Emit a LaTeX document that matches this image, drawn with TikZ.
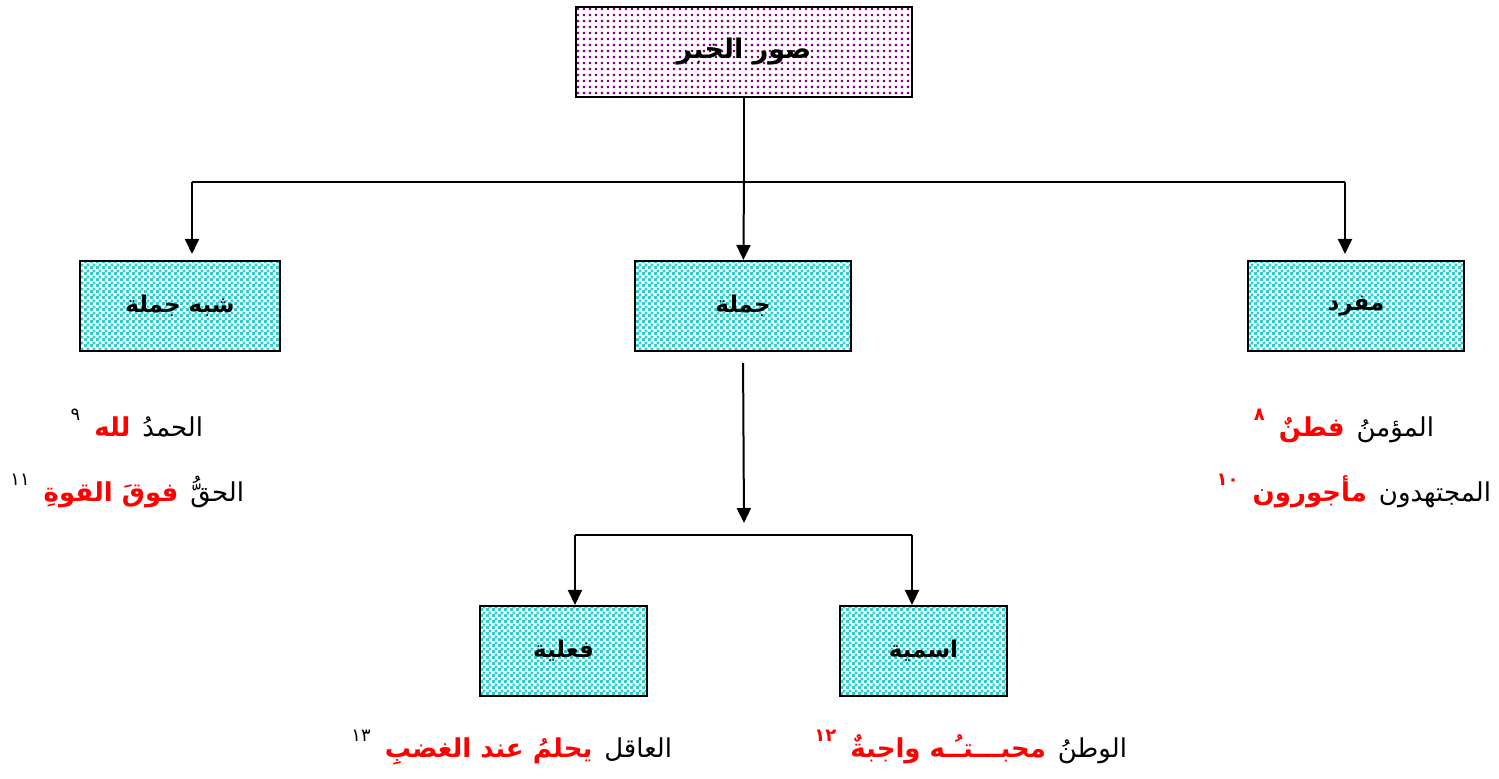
\documentclass[tikz,border=0pt]{standalone}
\usepackage{fontspec}
\newfontfamily\arabicfont[Script=Arabic]{DejaVu Sans}
\TeXXeTstate=1
\usetikzlibrary{arrows.meta,patterns,positioning}
\definecolor{boxcyan}{RGB}{51,204,204}
\definecolor{boxpurple}{RGB}{128,0,128}
\pgfdeclarepatternformonly{finechecker}{\pgfpointorigin}{\pgfqpoint{3pt}{3pt}}{\pgfqpoint{3pt}{3pt}}{%
  \pgfpathrectangle{\pgfpointorigin}{\pgfqpoint{1.6pt}{1.6pt}}%
  \pgfpathrectangle{\pgfqpoint{1.5pt}{1.5pt}}{\pgfqpoint{1.6pt}{1.6pt}}%
  \pgfusepath{fill}}
\pgfdeclarepatternformonly{finedots}{\pgfpointorigin}{\pgfqpoint{3pt}{3pt}}{\pgfqpoint{3pt}{3pt}}{%
  \pgfpathrectangle{\pgfqpoint{0.5pt}{0.5pt}}{\pgfqpoint{1.3pt}{1.3pt}}%
  \pgfusepath{fill}}
\newcommand{\artext}[1]{\beginR #1\endR}

\begin{document}
\begin{tikzpicture}[x=0.5pt,y=-0.5pt,line width=1pt,node distance=5pt,
  >={Triangle[length=7.5pt,width=7pt]},
  khabarbox/.style={draw, line width=1pt, pattern=finedots, pattern color=boxpurple,
    minimum width=168pt, minimum height=45pt, inner sep=0pt,
    font=\arabicfont\bfseries\fontsize{13.5}{16}\selectfont},
  typebox/.style={draw, line width=1pt, pattern=finechecker, pattern color=boxcyan,
    minimum height=45pt, inner sep=0pt,
    font=\arabicfont\bfseries\fontsize{11.5}{14}\selectfont},
  example/.style={inner sep=0pt, font=\arabicfont\fontsize{13}{15}\selectfont},
  exred/.style={example, text=red, font=\arabicfont\bfseries\fontsize{13}{15}\selectfont},
  exmark/.style={inner sep=0pt, yshift=8pt, font=\arabicfont\fontsize{9}{10}\selectfont},
  redmark/.style={exmark, text=red, font=\arabicfont\bfseries\fontsize{9}{10}\selectfont}]
\useasboundingbox (0,0) rectangle (1499,779);

% boxes
\node[khabarbox] (khabar) at (744,52) {\artext{صور الخبر}};
\node[typebox, minimum width=100pt] (shibh) at (180,306) {\artext{شبه جملة}};
\node[typebox, minimum width=108pt] (jumla) at (743,306) {\artext{جملة}};
\node[typebox, minimum width=108pt] (mufrad) at (1356,306) {\artext{مفرد}};
\node[typebox, minimum width=83.5pt] (filiya) at (563.5,651) {\artext{فعلية}};
\node[typebox, minimum width=83.5pt] (ismiya) at (923.5,651) {\artext{اسمية}};

% examples under shibh
\node[example, anchor=base east] (shibh_a) at (204,437) {\artext{الحمدُ}};
\node[exred, base left=of shibh_a] (shibh_a_red) {\artext{لله}};
\node[exmark, base left=6pt of shibh_a_red] (shibh_a_num) {٩};
\node[example, anchor=base east] (shibh_b) at (245,502) {\artext{الحقُّ}};
\node[exred, base left=of shibh_b] (shibh_b_red) {\artext{فوقَ القوةِ}};
\node[exmark, base left=6pt of shibh_b_red] (shibh_b_num) {١١};

% examples under mufrad
\node[example, anchor=base east] (mufrad_a) at (1435,437) {\artext{المؤمنُ}};
\node[exred, base left=of mufrad_a] (mufrad_a_red) {\artext{فطنٌ}};
\node[redmark, base left=6pt of mufrad_a_red] (mufrad_a_num) {٨};
\node[example, anchor=base east] (mufrad_b) at (1492,502) {\artext{المجتهدون}};
\node[exred, base left=of mufrad_b] (mufrad_b_red) {\artext{مأجورون}};
\node[redmark, base left=6pt of mufrad_b_red] (mufrad_b_num) {١٠};

% examples under filiya and ismiya
\node[example, anchor=base east] (filiya_a) at (673,757) {\artext{العاقل}};
\node[exred, base left=of filiya_a] (filiya_a_red) {\artext{يحلمُ عند الغضبِ}};
\node[exmark, base left=6pt of filiya_a_red] (filiya_a_num) {١٣};
\node[example, anchor=base east] (ismiya_a) at (1128,757) {\artext{الوطنُ}};
\node[exred, base left=of ismiya_a] (ismiya_a_red) {\artext{محبـــتـُـه واجبةٌ}};
\node[redmark, base left=6pt of ismiya_a_red] (ismiya_a_num) {١٢};

% connectors
\coordinate (joinT) at (744,182);
\coordinate (busL) at (192,182);
\coordinate (busR) at (1345,182);
\coordinate (forkT) at (744,523);
\coordinate (forkL) at (575,535);
\coordinate (forkR) at (912,535);

\draw (khabar) -- (joinT);
\draw (busL) -- (busR);
\draw[->,shorten >=3pt] (busL) -- (busL |- shibh.north);
\draw[->] (joinT) -- (jumla);
\draw[->,shorten >=3pt] (busR) -- (busR |- mufrad.north);
\draw[->,shorten <=5.5pt] (jumla.south) -- (forkT);
\draw (forkL) -- (forkR);
\draw[->] (forkL) -- (forkL |- filiya.north);
\draw[->] (forkR) -- (forkR |- ismiya.north);
\end{tikzpicture}
\end{document}
